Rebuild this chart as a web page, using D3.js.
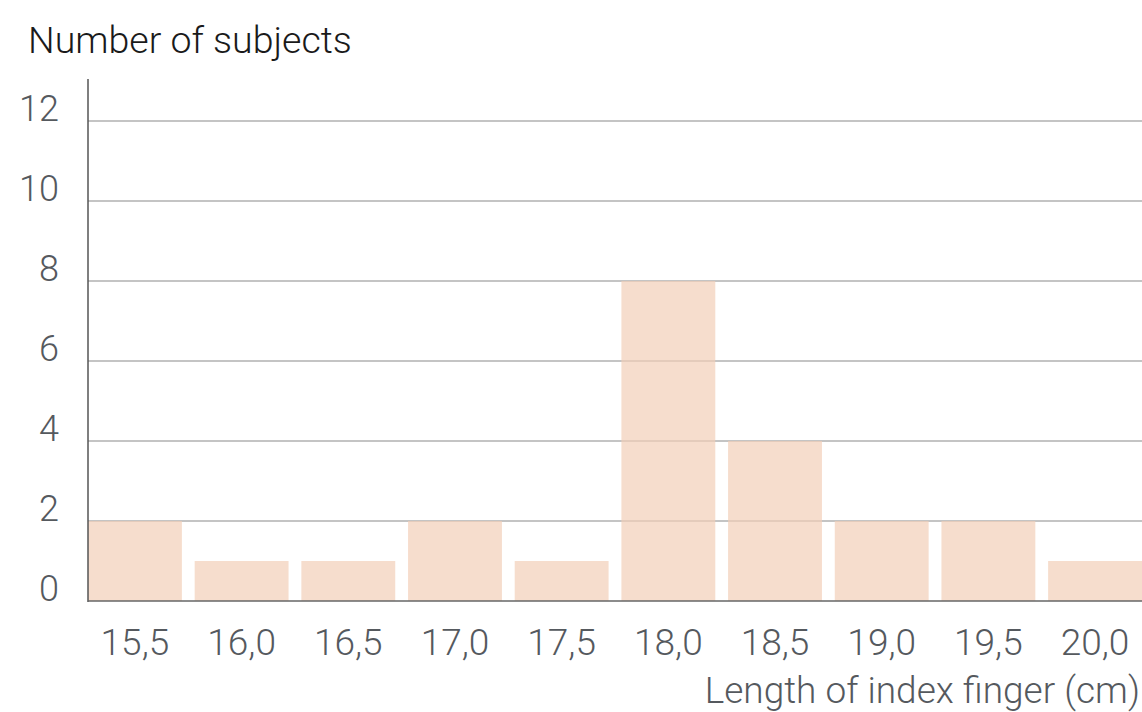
<!DOCTYPE html>
<html>
<head>
<meta charset="utf-8">
<script src="https://cdn.jsdelivr.net/npm/d3@7"></script>
<style>
  body { margin: 0; background: #fff; }
  text { font-family: Roboto, "Liberation Sans", sans-serif; font-weight: 300; }
</style>
</head>
<body>
<div class="chart"></div>
<script>
const lengths = ['15,5', '16,0', '16,5', '17,0', '17,5', '18,0', '18,5', '19,0', '19,5', '20,0'];
const subjects = [2, 1, 1, 2, 1, 8, 4, 2, 2, 1];
const yTicks = [0, 2, 4, 6, 8, 10, 12];

const width = 1142;
const height = 712;
const margin = { top: 81, right: 0, bottom: 111, left: 88 };

const svg = d3.select('.chart')
  .append('svg')
  .attr('width', width)
  .attr('height', height);

const x = d3.scaleBand()
  .domain(lengths)
  .range([margin.left, width - margin.right])
  .paddingInner(0.12)
  .paddingOuter(0);

const y = d3.scaleLinear()
  .domain([0, 13])
  .range([height - margin.bottom, margin.top]);

// gridlines
svg.append('g')
  .selectAll('line')
  .data(yTicks.filter(d => d > 0))
  .enter()
  .append('line')
  .attr('x1', margin.left)
  .attr('x2', width)
  .attr('y1', d => y(d))
  .attr('y2', d => y(d))
  .attr('stroke', '#8a8a8a')
  .attr('stroke-width', 1.2);

// bars
svg.append('g')
  .selectAll('rect')
  .data(subjects)
  .enter()
  .append('rect')
  .attr('x', (d, i) => x(lengths[i]))
  .attr('y', d => y(d))
  .attr('width', x.bandwidth())
  .attr('height', d => y(0) - y(d))
  .attr('fill', '#f2ceb8')
  .attr('fill-opacity', 0.7);

// axes lines
svg.append('line')
  .attr('x1', margin.left)
  .attr('x2', margin.left)
  .attr('y1', y(13) - 2)
  .attr('y2', y(0) + 1)
  .attr('stroke', '#555')
  .attr('stroke-width', 1.5);

svg.append('line')
  .attr('x1', margin.left)
  .attr('x2', width)
  .attr('y1', y(0))
  .attr('y2', y(0))
  .attr('stroke', '#666')
  .attr('stroke-width', 1.5);

// y tick labels
svg.append('g')
  .selectAll('text')
  .data(yTicks)
  .enter()
  .append('text')
  .attr('x', 59)
  .attr('y', d => y(d))
  .attr('text-anchor', 'end')
  .attr('fill', '#55595e')
  .style('font-size', '36px')
  .text(d => d);

// x tick labels
svg.append('g')
  .selectAll('text')
  .data(lengths)
  .enter()
  .append('text')
  .attr('x', d => x(d) + x.bandwidth() / 2)
  .attr('y', 655)
  .attr('text-anchor', 'middle')
  .attr('fill', '#55595e')
  .style('font-size', '37px')
  .text(d => d);

// titles
svg.append('text')
  .attr('x', 28)
  .attr('y', 53)
  .attr('fill', '#1a1a1a')
  .style('font-size', '37.5px')
  .text('Number of subjects');

svg.append('text')
  .attr('x', 1140)
  .attr('y', 703)
  .attr('text-anchor', 'end')
  .attr('fill', '#55595e')
  .style('font-size', '37px')
  .text('Length of index finger (cm)');
</script>
</body>
</html>
